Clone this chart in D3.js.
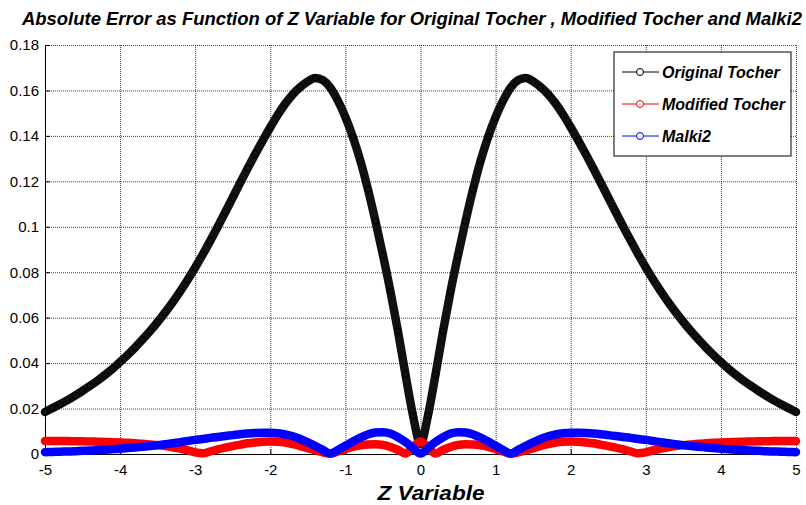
<!DOCTYPE html>
<html>
<head>
<meta charset="utf-8">
<script src="https://cdn.jsdelivr.net/npm/d3@7"></script>
<style>
  html, body { margin: 0; padding: 0; background: #fff; }
  svg { display: block; }
  text { font-family: "Liberation Sans", Arial, Helvetica, sans-serif; }
</style>
</head>
<body>
<svg id="chart" width="806" height="505"></svg>
<script>
// ---- data ----
const zValues = [
  -5.0,-4.9,-4.8,-4.7,-4.6,-4.5,-4.4,-4.3,-4.2,-4.1,
  -4.0,-3.9,-3.8,-3.7,-3.6,-3.5,-3.4,-3.3,-3.2,-3.1,
  -3.0,-2.9,-2.8,-2.7,-2.6,-2.5,-2.4,-2.3,-2.2,-2.1,
  -2.0,-1.9,-1.8,-1.7,-1.6,-1.5,-1.4,-1.3,-1.2,-1.1,
  -1.0,-0.9,-0.8,-0.7,-0.6,-0.5,-0.4,-0.3,-0.2,-0.1,
  0.0,
  0.1,0.2,0.3,0.4,0.5,0.6,0.7,0.8,0.9,1.0,
  1.1,1.2,1.3,1.4,1.5,1.6,1.7,1.8,1.9,2.0,
  2.1,2.2,2.3,2.4,2.5,2.6,2.7,2.8,2.9,3.0,
  3.1,3.2,3.3,3.4,3.5,3.6,3.7,3.8,3.9,4.0,
  4.1,4.2,4.3,4.4,4.5,4.6,4.7,4.8,4.9,5.0
];

const originalTocher = [
  0.0185,0.0202,0.0219,0.0237,0.0257,0.0278,0.0300,0.0323,0.0348,0.0375,
  0.0405,0.0436,0.0469,0.0504,0.0541,0.0581,0.0623,0.0668,0.0716,0.0767,
  0.0821,0.0878,0.0938,0.1000,0.1064,0.1129,0.1194,0.1258,0.1320,0.1380,
  0.1438,0.1493,0.1542,0.1583,0.1615,0.1640,0.1655,0.1645,0.1612,0.1555,
  0.1483,0.1395,0.1290,0.1165,0.1025,0.0875,0.0715,0.0540,0.0350,0.0170,
  0.0045,
  0.0170,0.0350,0.0540,0.0715,0.0875,0.1025,0.1165,0.1290,0.1395,0.1483,
  0.1555,0.1612,0.1645,0.1655,0.1640,0.1615,0.1583,0.1542,0.1493,0.1438,
  0.1380,0.1320,0.1258,0.1194,0.1129,0.1064,0.1000,0.0938,0.0878,0.0821,
  0.0767,0.0716,0.0668,0.0623,0.0581,0.0541,0.0504,0.0469,0.0436,0.0405,
  0.0375,0.0348,0.0323,0.0300,0.0278,0.0257,0.0237,0.0219,0.0202,0.0185
];

const modifiedTocher = [
  0.0057,0.0057,0.0057,0.0057,0.0056,0.0056,0.0055,0.0054,0.0053,0.0052,
  0.0051,0.0049,0.0047,0.0045,0.0042,0.0039,0.0035,0.0030,0.0024,0.0016,
  0.0007,0.0003,0.0011,0.0020,0.0028,0.0035,0.0041,0.0047,0.0051,0.0054,
  0.0055,0.0054,0.0050,0.0043,0.0035,0.0026,0.0016,0.0007,0.0001,0.0011,
  0.0022,0.0031,0.0038,0.0042,0.0043,0.0040,0.0031,0.0018,0.0002,0.0030,
  0.0055,
  0.0030,0.0002,0.0018,0.0031,0.0040,0.0043,0.0042,0.0038,0.0031,0.0022,
  0.0011,0.0001,0.0007,0.0016,0.0026,0.0035,0.0043,0.0050,0.0054,0.0055,
  0.0054,0.0051,0.0047,0.0041,0.0035,0.0028,0.0020,0.0011,0.0003,0.0007,
  0.0016,0.0024,0.0030,0.0035,0.0039,0.0042,0.0045,0.0047,0.0049,0.0051,
  0.0052,0.0053,0.0054,0.0055,0.0056,0.0056,0.0057,0.0057,0.0057,0.0057
];

const malki2 = [
  0.0008,0.0009,0.0010,0.0011,0.0012,0.0014,0.0015,0.0017,0.0019,0.0021,
  0.0023,0.0026,0.0029,0.0032,0.0035,0.0039,0.0043,0.0047,0.0052,0.0057,
  0.0062,0.0066,0.0071,0.0075,0.0079,0.0083,0.0087,0.0090,0.0092,0.0093,
  0.0093,0.0091,0.0086,0.0078,0.0066,0.0051,0.0035,0.0018,0.0002,0.0018,
  0.0036,0.0055,0.0072,0.0086,0.0095,0.0096,0.0090,0.0074,0.0053,0.0027,
  0.0002,
  0.0027,0.0053,0.0074,0.0090,0.0096,0.0095,0.0086,0.0072,0.0055,0.0036,
  0.0018,0.0002,0.0018,0.0035,0.0051,0.0066,0.0078,0.0086,0.0091,0.0093,
  0.0093,0.0092,0.0090,0.0087,0.0083,0.0079,0.0075,0.0071,0.0066,0.0062,
  0.0057,0.0052,0.0047,0.0043,0.0039,0.0035,0.0032,0.0029,0.0026,0.0023,
  0.0021,0.0019,0.0017,0.0015,0.0014,0.0012,0.0011,0.0010,0.0009,0.0008
];

const seriesNames = ["Original Tocher", "Modified Tocher", "Malki2"];
const seriesColors = ["#000000", "#ff0000", "#0000ff"];

const xTicks = [-5,-4,-3,-2,-1,0,1,2,3,4,5];
const xTickLabels = ["-5","-4","-3","-2","-1","0","1","2","3","4","5"];
const yTicks = [0,0.02,0.04,0.06,0.08,0.1,0.12,0.14,0.16,0.18];
const yTickLabels = ["0","0.02","0.04","0.06","0.08","0.1","0.12","0.14","0.16","0.18"];

const titleText = "Absolute Error as Function of Z Variable for Original Tocher , Modified Tocher and Malki2";
const xLabelText = "Z Variable";

// ---- layout ----
const svg = d3.select("#chart");
const W = 806, H = 505;
const margin = { left: 45, right: 10, top: 45, bottom: 51 };
const plotL = margin.left, plotR = W - margin.right, plotT = margin.top, plotB = H - margin.bottom;

svg.append("rect").attr("width", W).attr("height", H).attr("fill", "#fff");

const x = d3.scaleLinear().domain([-5, 5]).range([plotL, plotR]);
const y = d3.scaleLinear().domain([0, 0.18]).range([plotB, plotT]);

// grid
const grid = svg.append("g").attr("class", "grid");
grid.append("g")
  .attr("transform", `translate(0,${plotB})`)
  .call(d3.axisBottom(x).tickValues(xTicks).tickSize(-(plotB - plotT)).tickFormat(""))
  .call(g => g.select(".domain").remove())
  .call(g => g.selectAll("line").attr("stroke", "#000").attr("stroke-dasharray", "1,1").attr("stroke-opacity", 0.75));
grid.append("g")
  .attr("transform", `translate(${plotL},0)`)
  .call(d3.axisLeft(y).tickValues(yTicks).tickSize(-(plotR - plotL)).tickFormat(""))
  .call(g => g.select(".domain").remove())
  .call(g => g.selectAll("line").attr("stroke", "#000").attr("stroke-dasharray", "1,1").attr("stroke-opacity", 0.75));

// axes
const xAxis = svg.append("g")
  .attr("transform", `translate(0,${plotB})`)
  .call(d3.axisBottom(x).tickValues(xTicks).tickSizeInner(-5).tickSizeOuter(0).tickPadding(10)
    .tickFormat((d, i) => xTickLabels[i]));
const yAxis = svg.append("g")
  .attr("transform", `translate(${plotL},0)`)
  .call(d3.axisLeft(y).tickValues(yTicks).tickSizeInner(-5).tickSizeOuter(0).tickPadding(6)
    .tickFormat((d, i) => yTickLabels[i]));
[xAxis, yAxis].forEach(g => {
  g.selectAll("text").attr("font-size", 15).attr("fill", "#000")
    .attr("font-family", '"Liberation Sans", Arial, sans-serif');
  g.selectAll("line").attr("stroke", "#000");
  g.select(".domain").attr("stroke", "#000").attr("stroke-width", 1);
});

// series
const allSeries = [originalTocher, modifiedTocher, malki2];
const line = d3.line()
  .x((d, i) => x(zValues[i]))
  .y(d => y(d))
  .curve(d3.curveMonotoneX);

allSeries.forEach((vals, si) => {
  const g = svg.append("g");
  g.append("path")
    .datum(vals)
    .attr("d", line)
    .attr("fill", "none")
    .attr("stroke", si === 0 ? "#111" : seriesColors[si])
    .attr("stroke-width", 8.5)
    .attr("stroke-linecap", "round")
    .attr("stroke-linejoin", "round");
  g.selectAll("circle")
    .data(vals)
    .join("circle")
    .attr("cx", (d, i) => x(zValues[i]))
    .attr("cy", d => y(d))
    .attr("r", 3.2)
    .attr("fill", "none")
    .attr("stroke", seriesColors[si])
    .attr("stroke-width", 1);
});

// legend
const leg = svg.append("g").attr("transform", "translate(614,52)");
leg.append("rect").attr("width", 177).attr("height", 104)
  .attr("fill", "#fff").attr("stroke", "#000").attr("stroke-width", 1);
seriesNames.forEach((name, i) => {
  const yy = 20 + i * 32;
  leg.append("line").attr("x1", 8).attr("x2", 45).attr("y1", yy).attr("y2", yy)
    .attr("stroke", seriesColors[i]).attr("stroke-width", 1);
  leg.append("circle").attr("cx", 26).attr("cy", yy).attr("r", 3.5)
    .attr("fill", "#fff").attr("stroke", seriesColors[i]).attr("stroke-width", 1);
  leg.append("text").attr("x", 48).attr("y", yy + 5.5)
    .attr("font-size", 16).attr("font-weight", "bold").attr("font-style", "italic")
    .attr("fill", "#000").text(name);
});

// title
svg.append("text")
  .attr("x", 412).attr("y", 25)
  .attr("text-anchor", "middle")
  .attr("font-size", 17.5).attr("font-weight", "bold").attr("font-style", "italic")
  .attr("textLength", 780).attr("lengthAdjust", "spacingAndGlyphs")
  .attr("fill", "#000")
  .text(titleText);

// x label
svg.append("text")
  .attr("x", 431).attr("y", 500)
  .attr("text-anchor", "middle")
  .attr("font-size", 21).attr("font-weight", "bold").attr("font-style", "italic")
  .attr("textLength", 107).attr("lengthAdjust", "spacingAndGlyphs")
  .attr("fill", "#000")
  .text(xLabelText);
</script>
</body>
</html>
